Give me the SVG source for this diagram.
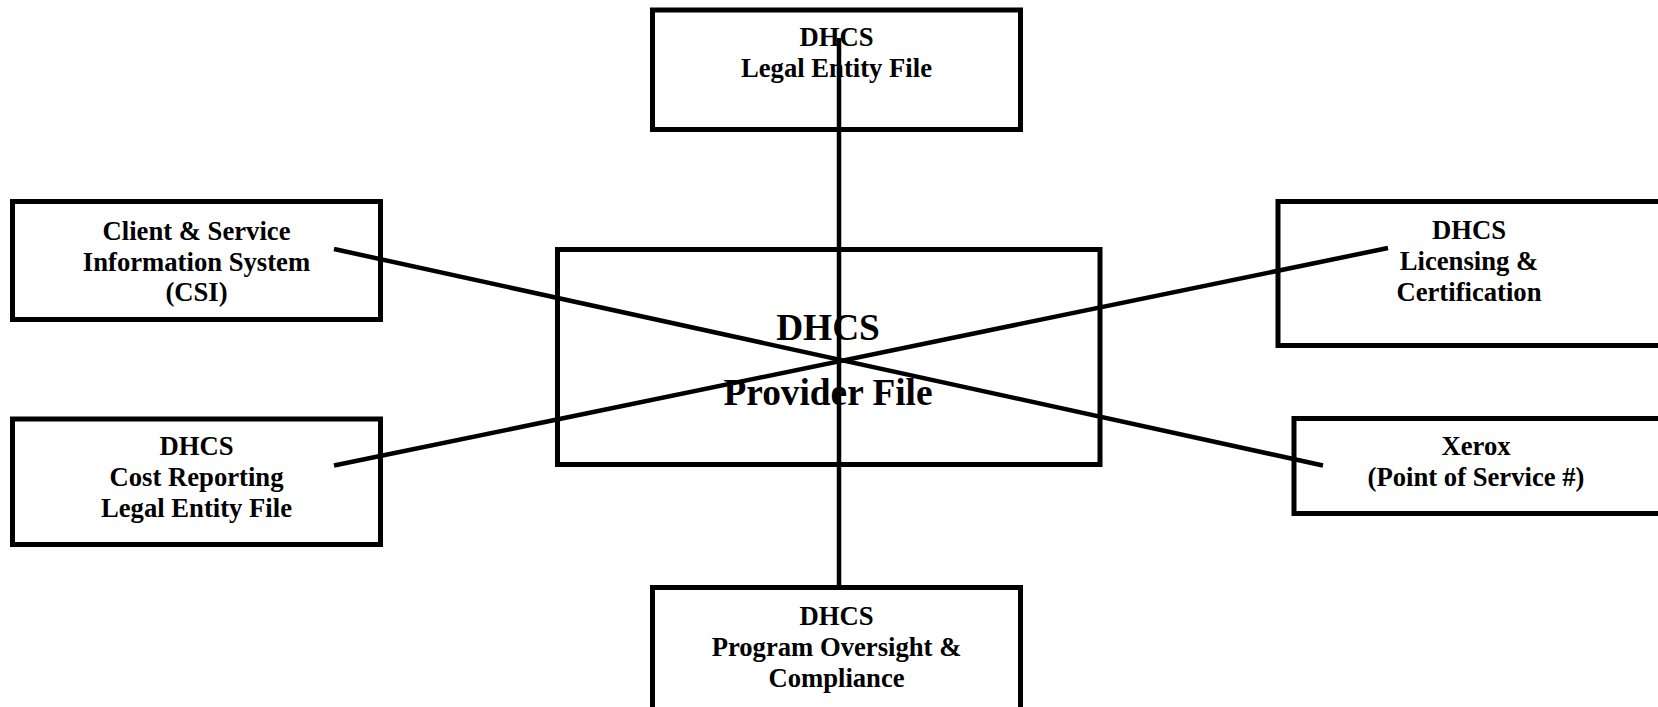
<svg xmlns="http://www.w3.org/2000/svg" width="1658" height="707" viewBox="0 0 1658 707">
<style>
.box{fill:#fff;stroke:#000;stroke-width:5}
.t{font-family:"Liberation Serif","Times New Roman",serif;font-weight:bold;font-size:26.67px;text-anchor:middle;fill:#000}
.tb{font-size:37.33px}
.c{stroke:#000;stroke-width:4.5;fill:none}
</style>
<rect x="0" y="0" width="1658" height="707" fill="#fff"/>
<g id="n-provider">
<rect class="box" x="557.5" y="249.5" width="542.5" height="215"/>
<text class="t tb" x="828" y="340">DHCS</text>
<text class="t tb" x="828" y="405">Provider File</text>
</g>
<g id="n-legal">
<rect class="box" x="652.5" y="10" width="368" height="119.5"/>
<text class="t" x="836.5" y="46">DHCS</text>
<text class="t" x="836.5" y="77">Legal Entity File</text>
</g>
<g id="n-csi">
<rect class="box" x="12.5" y="201.5" width="368" height="118"/>
<text class="t" x="196.5" y="240">Client &amp; Service</text>
<text class="t" x="196.5" y="271">Information System</text>
<text class="t" x="196.5" y="301">(CSI)</text>
</g>
<g id="n-cost">
<rect class="box" x="12.5" y="419" width="368" height="125.5"/>
<text class="t" x="196.5" y="455">DHCS</text>
<text class="t" x="196.5" y="486">Cost Reporting</text>
<text class="t" x="196.5" y="517">Legal Entity File</text>
</g>
<g id="n-licensing">
<rect class="box" x="1278" y="201.5" width="400" height="144"/>
<text class="t" x="1469" y="239">DHCS</text>
<text class="t" x="1469" y="270">Licensing &amp;</text>
<text class="t" x="1469" y="301">Certification</text>
</g>
<g id="n-xerox">
<rect class="box" x="1294" y="418.5" width="400" height="95"/>
<text class="t" x="1476" y="455">Xerox</text>
<text class="t" x="1476" y="486">(Point of Service #)</text>
</g>
<g id="n-oversight">
<rect class="box" x="652.5" y="587.5" width="368" height="140"/>
<text class="t" x="836.5" y="624.5">DHCS</text>
<text class="t" x="836.5" y="655.5">Program Oversight &amp;</text>
<text class="t" x="836.5" y="686.5">Compliance</text>
</g>
<g id="connectors">
<line class="c" x1="839" y1="38" x2="839" y2="587"/>
<line class="c" x1="334" y1="249" x2="1323" y2="465.5"/>
<line class="c" x1="334" y1="465.5" x2="1388" y2="248"/>
</g>
</svg>
